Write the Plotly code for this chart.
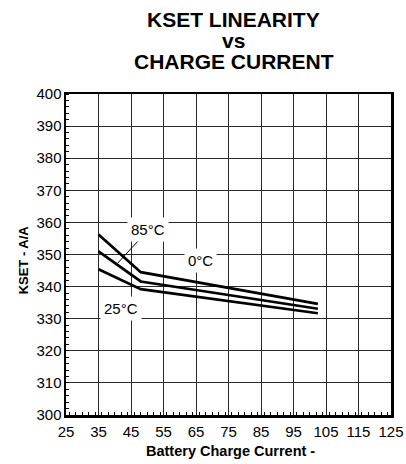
import plotly.graph_objects as go

# Data
current_a = [35, 48, 102.5]          # Battery charge current
kset_0c = [356.2, 344.5, 334.6]      # top curve (0°C)
kset_85c = [351.0, 341.6, 333.1]     # middle curve (85°C)
kset_25c = [345.4, 339.2, 331.7]     # bottom curve (25°C)

x_ticks = [25, 35, 45, 55, 65, 75, 85, 95, 105, 115, 125]
y_ticks = [300, 310, 320, 330, 340, 350, 360, 370, 380, 390, 400]

label_text = ["85°C", "0°C", "25°C"]
label_x = [50.1, 66.3, 41.9]
label_y = [357.9, 348.0, 333.3]
leader_x = [48.9, 40.9]
leader_y = [356.1, 347.3]

title_lines = ["KSET LINEARITY", "vs", "CHARGE CURRENT"]
x_title = "Battery Charge Current -"
y_title = "KSET - A/A"

FONT = "Arial, Liberation Sans, sans-serif"

W, H = 406, 464
L, R, T, B = 65.5, 14.5, 94, 48.5
PW, PH = W - L - R, H - T - B


def px_to_paper(px, py):
    return (px - L) / PW, 1 - (py - T) / PH


fig = go.Figure()
for ys in (kset_0c, kset_85c, kset_25c):
    fig.add_trace(go.Scatter(x=current_a, y=ys, mode="lines",
                             line=dict(color="black", width=2.7),
                             showlegend=False, hoverinfo="skip"))
fig.add_trace(go.Scatter(x=leader_x, y=leader_y, mode="lines",
                         line=dict(color="black", width=1),
                         showlegend=False, hoverinfo="skip"))

for t, lx, ly in zip(label_text, label_x, label_y):
    fig.add_annotation(x=lx, y=ly, text=t, showarrow=False,
                       font=dict(family=FONT, size=15, color="black"),
                       bgcolor="white", borderpad=3)

for t, py in zip(title_lines, [19, 40, 61]):
    ax, ay = px_to_paper(234, py)
    fig.add_annotation(x=ax, y=ay, xref="paper", yref="paper",
                       text="<b>%s</b>" % t, showarrow=False,
                       xanchor="center", yanchor="middle",
                       font=dict(family=FONT, size=21, color="black"))

ax, ay = px_to_paper(230.5, 451.5)
fig.add_annotation(x=ax, y=ay, xref="paper", yref="paper",
                   text="<b>%s</b>" % x_title, showarrow=False,
                   xanchor="center", yanchor="middle",
                   font=dict(family=FONT, size=14.5, color="black"))
ax, ay = px_to_paper(23, 260)
fig.add_annotation(x=ax, y=ay, xref="paper", yref="paper",
                   text="<b>%s</b>" % y_title, showarrow=False, textangle=-90,
                   xanchor="center", yanchor="middle",
                   font=dict(family=FONT, size=13, color="black"))

fig.update_layout(
    width=W, height=H,
    margin=dict(l=L, r=R, t=T, b=B, autoexpand=False),
    paper_bgcolor="white", plot_bgcolor="white",
    font=dict(family=FONT, size=12, color="black"),
    hovermode=False,
)

axis_common = dict(showgrid=True, gridcolor="#2a2a2a", gridwidth=1,
                   showline=True, linecolor="black", linewidth=2.5, mirror=True,
                   ticks="", zeroline=False,
                   tickfont=dict(family=FONT, size=15, color="black"),
                   minor=dict(ticks="inside", dtick=2, ticklen=3, tickwidth=1,
                              tickcolor="black", showgrid=False))
fig.update_xaxes(range=[25, 125], tickvals=x_ticks, ticktext=[str(v) for v in x_ticks],
                 ticklabelstandoff=1, **axis_common)
fig.update_yaxes(range=[300, 400], tickvals=y_ticks, ticktext=[str(v) for v in y_ticks],
                 ticklabelstandoff=-1, **axis_common)

# Remove the default 8px page margin so the 406x464 figure fills the window exactly.
fig.write_html("out.html",
               config={"displayModeBar": False, "staticPlot": True},
               post_script="document.body.style.margin='0px';document.body.style.overflow='hidden';")
